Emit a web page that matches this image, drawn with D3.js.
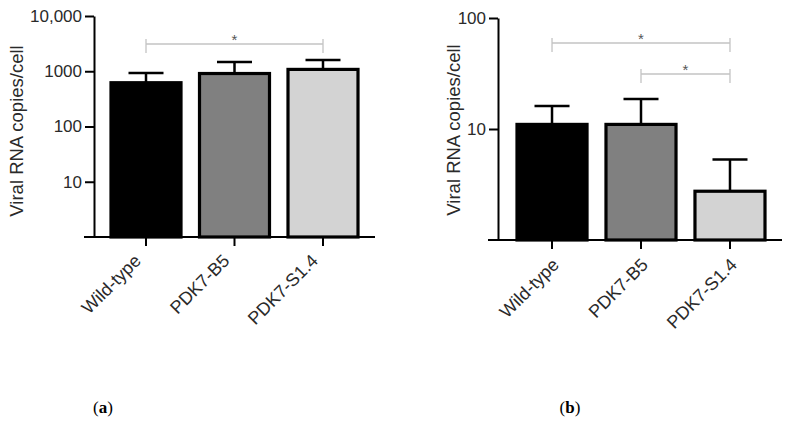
<!DOCTYPE html>
<html>
<head>
<meta charset="utf-8">
<script src="https://cdn.jsdelivr.net/npm/d3@7"></script>
<style>
  body { margin: 0; background: #fff; }
  svg { display: block; }
</style>
</head>
<body>
<svg id="chart"></svg>
<script>
var width = 794;
var height = 431;

// data
var categories = ["Wild-type", "PDK7-B5", "PDK7-S1.4"];
var fills = ["#000000", "#808080", "#d3d3d3"];

var meansA = [620, 910, 1080];
var upperA = [930, 1470, 1600];
var ticksA = [10, 100, 1000, 10000];
var tickLabelsA = ["10", "100", "1000", "10,000"];
var sigA = [["Wild-type", "PDK7-S1.4"]];

var meansB = [11.0, 11.0, 2.75];
var upperB = [16.1, 18.6, 5.3];
var ticksB = [10, 100];
var tickLabelsB = ["10", "100"];
var sigB = [["Wild-type", "PDK7-S1.4"], ["PDK7-B5", "PDK7-S1.4"]];

var panelTitles = ["a", "b"];

var svg = d3.select("#chart").attr("width", width).attr("height", height);

function drawPanel(p) {
  var g = svg.append("g");

  var x = d3.scaleBand()
    .domain(categories)
    .range([p.left, p.right])
    .paddingInner(p.padIn)
    .paddingOuter(0);

  var y = d3.scaleLog()
    .domain([1, p.ticks[p.ticks.length - 1]])
    .range([p.bottom, p.top]);

  var data = categories.map(function(c, i) {
    return {cat: c, mean: p.means[i], upper: p.upper[i], fill: fills[i]};
  });

  // bars
  g.selectAll("rect.bar")
    .data(data)
    .enter().append("rect")
    .attr("class", "bar")
    .attr("x", function(d) { return x(d.cat); })
    .attr("y", function(d) { return y(d.mean); })
    .attr("width", x.bandwidth())
    .attr("height", function(d) { return y(1) - y(d.mean); })
    .attr("fill", function(d) { return d.fill; })
    .attr("stroke", "#000")
    .attr("stroke-width", 3.2);

  // error bars (upper only)
  var cap = x.bandwidth() / 2;
  g.selectAll("line.stem")
    .data(data)
    .enter().append("line")
    .attr("x1", function(d) { return x(d.cat) + x.bandwidth() / 2; })
    .attr("x2", function(d) { return x(d.cat) + x.bandwidth() / 2; })
    .attr("y1", function(d) { return y(d.mean); })
    .attr("y2", function(d) { return y(d.upper); })
    .attr("stroke", "#000")
    .attr("stroke-width", 2.5);
  g.selectAll("line.cap")
    .data(data)
    .enter().append("line")
    .attr("x1", function(d) { return x(d.cat) + x.bandwidth() / 2 - cap / 2; })
    .attr("x2", function(d) { return x(d.cat) + x.bandwidth() / 2 + cap / 2; })
    .attr("y1", function(d) { return y(d.upper); })
    .attr("y2", function(d) { return y(d.upper); })
    .attr("stroke", "#000")
    .attr("stroke-width", 2.5);

  // y axis
  var yAxis = g.append("g")
    .attr("transform", "translate(" + p.axisX + ",0)")
    .call(d3.axisLeft(y)
      .tickValues(p.ticks)
      .tickFormat(function(d, i) { return p.tickLabels[i]; })
      .tickSize(9)
      .tickSizeOuter(0)
      .tickPadding(3));
  yAxis.select(".domain").attr("stroke-width", 2);
  yAxis.selectAll(".tick line").attr("stroke-width", 2);
  yAxis.selectAll("text")
    .attr("font-family", "Liberation Sans, Arial, sans-serif")
    .attr("font-size", 17)
    .attr("fill", "#2a2a2a");

  // x axis
  var xAxis = g.append("g")
    .attr("transform", "translate(0," + y(1) + ")")
    .call(d3.axisBottom(x).tickSize(9).tickSizeOuter(0));
  xAxis.select(".domain").remove();
  xAxis.selectAll(".tick line").attr("stroke-width", 2);
  xAxis.append("line")
    .attr("x1", p.axisX - 10)
    .attr("x2", p.right + 17)
    .attr("stroke", "#000")
    .attr("stroke-width", 2);
  xAxis.selectAll(".tick text")
    .attr("x", 0)
    .attr("y", 0)
    .attr("dy", 0)
    .attr("text-anchor", "end")
    .attr("transform", "translate(" + p.labelDx + "," + p.labelDy + ") rotate(-45)")
    .attr("font-family", "Liberation Sans, Arial, sans-serif")
    .attr("font-size", 18)
    .attr("fill", "#2a2a2a");

  // y axis title
  g.append("text")
    .attr("transform", "translate(" + p.titleX + "," + p.titleY + ") rotate(-90)")
    .attr("text-anchor", "middle")
    .attr("font-family", "Liberation Sans, Arial, sans-serif")
    .attr("font-size", 18.5)
    .attr("fill", "#2a2a2a")
    .text("Viral RNA copies/cell");

  // significance brackets
  p.sig.forEach(function(s, i) {
    var by = p.sigY + i * 31;
    var xa = x(s[0]) + x.bandwidth() / 2;
    var xb = x(s[1]) + x.bandwidth() / 2;
    g.append("path")
      .attr("d", "M" + xa + "," + (by + 9) + "V" + (by - 5) + "M" + xa + "," + by + "H" + xb + "M" + xb + "," + (by - 5) + "V" + (by + 9))
      .attr("fill", "none")
      .attr("stroke", "#c4c4c4")
      .attr("stroke-width", 1.3);
    g.append("text")
      .attr("x", (xa + xb) / 2)
      .attr("y", by + 1)
      .attr("text-anchor", "middle")
      .attr("font-family", "Liberation Sans, Arial, sans-serif")
      .attr("font-size", 15)
      .attr("fill", "#555")
      .text("*");
  });

  // panel letter
  var lab = g.append("text")
    .attr("x", p.letterX)
    .attr("y", 413)
    .attr("text-anchor", "middle")
    .attr("font-family", "Liberation Serif, Times New Roman, serif")
    .attr("font-size", 17)
    .attr("fill", "#000");
  lab.append("tspan").text("(");
  lab.append("tspan").attr("font-weight", "bold").text(p.letter);
  lab.append("tspan").text(")");
}

drawPanel({
  left: 111, right: 358, padIn: 0.209,
  top: 16, bottom: 237, axisX: 94,
  means: meansA, upper: upperA,
  ticks: ticksA, tickLabels: tickLabelsA,
  sig: sigA, sigY: 44,
  labelDx: -4, labelDy: 25,
  titleX: 23, titleY: 131,
  letter: panelTitles[0], letterX: 103
});

drawPanel({
  left: 517, right: 765, padIn: 0.213,
  top: 18, bottom: 240, axisX: 498,
  means: meansB, upper: upperB,
  ticks: ticksB, tickLabels: tickLabelsB,
  sig: sigB, sigY: 43,
  labelDx: 8, labelDy: 26,
  titleX: 460, titleY: 130,
  letter: panelTitles[1], letterX: 570
});
</script>
</body>
</html>
